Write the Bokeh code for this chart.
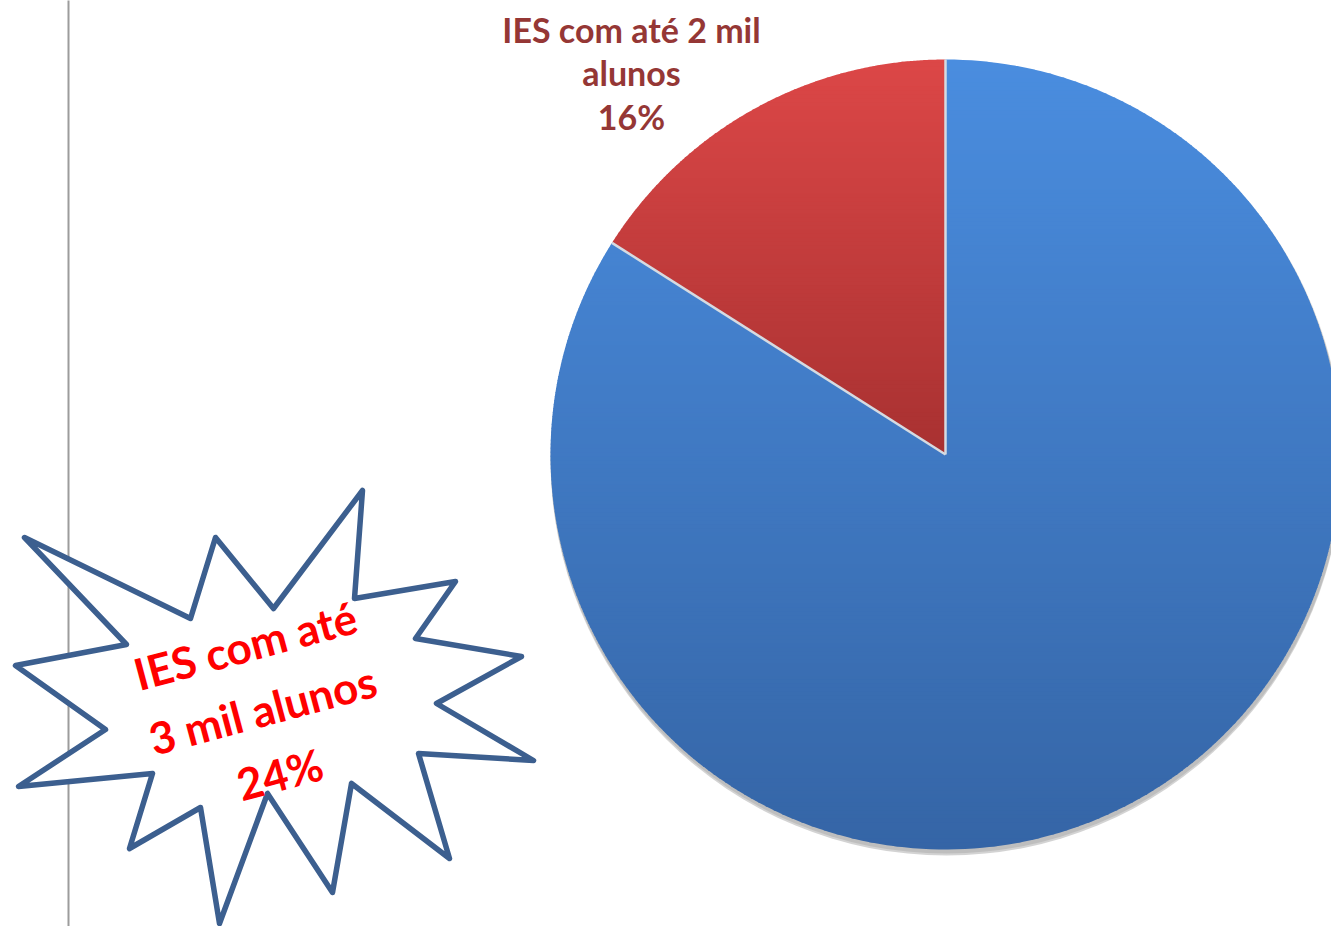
import numpy as np
from bokeh.plotting import figure
from bokeh.models import Range1d, ColumnDataSource
from bokeh.core.properties import value
from bokeh.embed import file_html
from bokeh.resources import INLINE

# ---------------- data ----------------
categories = ["IES com até 2 mil alunos", "Demais IES"]
shares = [16, 84]                       # percent
label_lines = ["IES com até 2 mil", "alunos", "16%"]
burst_lines = ["IES com até", "3 mil alunos", "24%"]

# ---------------- layout (reference pixel space) ----------------
W, H = 1331, 926
def Y(yref):            # reference pixel y (down) -> data y (up)
    return H - yref

CX, CY, R = 945.0, Y(454.0), 395.0

p = figure(width=W, height=H, output_backend="svg", toolbar_location=None,
           x_range=Range1d(0, W), y_range=Range1d(0, H),
           min_border=0)
p.axis.visible = False
p.grid.visible = False
p.outline_line_color = None
p.background_fill_color = "white"
p.border_fill_color = "white"

# vertical gray rule
p.segment(x0=[68], y0=[Y(-5)], x1=[68], y1=[Y(930)], line_color="#9c9c9c", line_width=2)

# ---------------- pie with vertical gradient ----------------
def wedge_poly(a0, a1, n=240):
    t = np.linspace(a0, a1, n)
    xs = np.concatenate([[CX], CX + R * np.cos(t)])
    ys = np.concatenate([[CY], CY + R * np.sin(t)])
    return list(zip(xs, ys))

def clip(poly, yv, keep_above):
    out = []
    n = len(poly)
    for i in range(n):
        cur, prev = poly[i], poly[i - 1]
        cin = cur[1] >= yv if keep_above else cur[1] <= yv
        pin = prev[1] >= yv if keep_above else prev[1] <= yv
        if cin:
            if not pin:
                t = (yv - prev[1]) / (cur[1] - prev[1])
                out.append((prev[0] + t * (cur[0] - prev[0]), yv))
            out.append(cur)
        elif pin:
            t = (yv - prev[1]) / (cur[1] - prev[1])
            out.append((prev[0] + t * (cur[0] - prev[0]), yv))
    return out

def hexmix(c0, c1, f):
    a = [int(c0[i:i + 2], 16) for i in (1, 3, 5)]
    b = [int(c1[i:i + 2], 16) for i in (1, 3, 5)]
    return "#%02x%02x%02x" % tuple(int(round(a[k] + (b[k] - a[k]) * f)) for k in range(3))

grad = {0: ("#dc4747", "#a83131"), 1: ("#4a8ddf", "#3565a6")}

# shadow
p.circle(x=[CX + 1], y=[CY - 5], radius=R + 1, fill_color="#808080", fill_alpha=0.35, line_color=None)
p.circle(x=[CX + 1], y=[CY - 3], radius=R + 1, fill_color="#909090", fill_alpha=0.3, line_color=None)

total = float(sum(shares))
start = np.pi / 2
bands = np.linspace(CY - R - 1, CY + R + 1, 200)
angles = []
for i, s in enumerate(shares):
    sweep = 2 * np.pi * s / total
    a0, a1 = start, start + sweep
    angles.append((a0, a1))
    poly = wedge_poly(a0, a1)
    top_y = max(pt[1] for pt in poly)
    bot_y = min(pt[1] for pt in poly)
    xs_l, ys_l, cols = [], [], []
    for k in range(len(bands) - 1):
        lo, hi = bands[k], bands[k + 1] + 0.8
        pc = clip(clip(poly, lo, True), hi, False)
        if len(pc) < 3:
            continue
        f = (top_y - (lo + hi) / 2) / (top_y - bot_y)
        f = min(max(f, 0), 1)
        xs_l.append([q[0] for q in pc])
        ys_l.append([q[1] for q in pc])
        cols.append(hexmix(grad[i][0], grad[i][1], f))
    p.patches(xs=xs_l, ys=ys_l, fill_color=cols, line_color=None)
    start = a1

# slice separators
for a0, a1 in angles:
    p.segment(x0=[CX], y0=[CY], x1=[CX + R * np.cos(a0)], y1=[CY + R * np.sin(a0)],
              line_color="#d5dbe2", line_width=2.5)

# slice label (red slice)
lab_src = ColumnDataSource(dict(x=[631] * 3, y=[Y(29), Y(72), Y(116)], t=label_lines))
p.text(x="x", y="y", text="t", source=lab_src, text_align="center", text_baseline="alphabetic",
       text_font=value("Lato"), text_font_style="bold", text_font_size="34px",
       text_color="#953735")

# ---------------- starburst callout ----------------
burst_x = [24, 190, 215, 273, 362, 354, 455, 415, 521, 436, 533, 418,
           449, 351, 332, 267, 219, 200, 129, 152, 18, 105, 15, 126]
burst_y = [537, 618, 537, 608, 490, 598, 581, 638, 656, 703, 760, 753,
           858, 783, 892, 793, 923, 807, 848, 773, 786, 729, 665, 644]
p.patch(x=burst_x + [burst_x[0]], y=[Y(v) for v in burst_y + [burst_y[0]]],
        fill_color="white", line_color="#3c5f8f", line_width=5.5, line_join="round")

ang = np.deg2rad(15)
p.text(x=[262], y=[Y(709)], text=["\n".join(burst_lines)], angle=ang,
       text_align="center", text_baseline="middle", text_line_height=1.28,
       text_font=value("Lato"), text_font_style="bold", text_font_size="44px",
       text_color="#ff0000")

open("out.html", "w").write(file_html(p, INLINE))
